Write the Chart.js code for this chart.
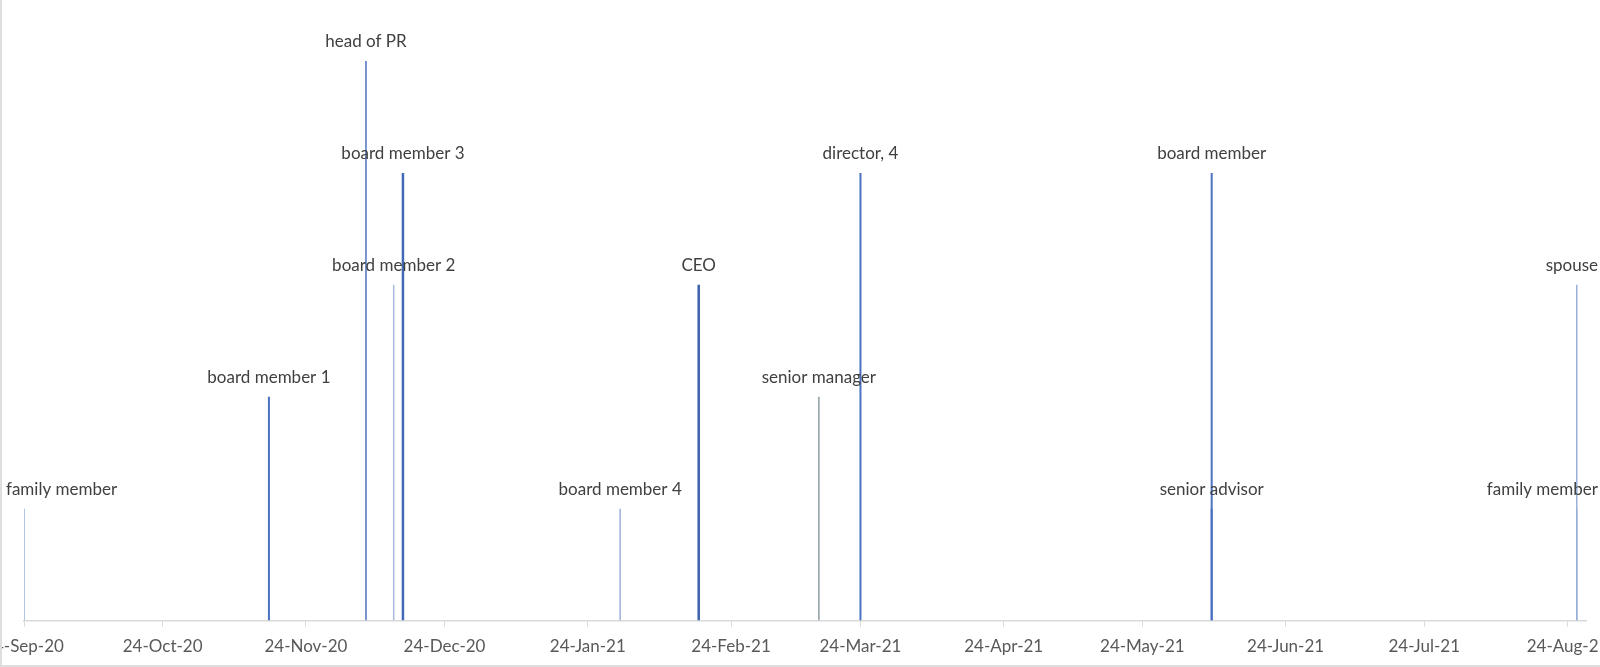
<!DOCTYPE html>
<html>
<head>
<meta charset="utf-8">
<script src="https://cdn.jsdelivr.net/npm/chart.js@4/dist/chart.umd.min.js"></script>
<style>
  html, body { margin: 0; padding: 0; background: #fff; overflow: hidden; }
  #wrap { width: 1598px; height: 665px; border-left: 2px solid #dedede; border-bottom: 2px solid #dedede; }
</style>
</head>
<body>
<div id="wrap"><canvas id="timeline" width="1598" height="665"></canvas></div>
<script>
// events on the timeline
const roles = ['family member','board member 1','head of PR','board member 2','board member 3','board member 4',
               'CEO','senior manager','director, 4','senior advisor','board member','family member','spouse'];
const dates = ['2020-09-24','2020-11-16','2020-12-07','2020-12-13','2020-12-15','2021-01-31',
               '2021-02-17','2021-03-15','2021-03-24','2021-06-08','2021-06-08','2021-08-26','2021-08-26'];
const levels = [1,2,5,3,4,1,3,2,4,1,4,1,3];
// axis ticks: the 24th of each month
const tickMonths = ['2020-09','2020-10','2020-11','2020-12','2021-01','2021-02','2021-03','2021-04','2021-05','2021-06','2021-07','2021-08'];

// line look per event
const lineColors = ['#9ab0d8','#4a72c0','#4a72c0','#a9bade','#4268b8','#9ab0d8',
                    '#3a62ad','#8e9ea6','#4a72c0','#4a72c0','#4a72c0','#9ab0d8','#9ab0d8'];
const lineWidths = [1.5,2,1.5,1.5,2.5,1.5,2.5,1.5,2,2,2,1.5,1.5];

const DAY = 86400000;
const toDay = s => Date.parse(s + 'T00:00:00Z') / DAY;
const months = ['Jan','Feb','Mar','Apr','May','Jun','Jul','Aug','Sep','Oct','Nov','Dec'];
const fmt = v => {
  const d = new Date(v * DAY);
  return d.getUTCDate() + '-' + months[d.getUTCMonth()] + '-' + String(d.getUTCFullYear()).slice(2);
};

// taller lines drawn last so they cover the short ones at the same date
const datasets = roles.map((r, i) => ({
  label: r,
  data: [{x: toDay(dates[i]), y: 0}, {x: toDay(dates[i]), y: levels[i]}],
  showLine: true,
  borderColor: lineColors[i],
  borderWidth: lineWidths[i],
  pointRadius: 0,
  pointHoverRadius: 0,
  order: -levels[i]
}));

const roleLabels = {
  id: 'roleLabels',
  afterDatasetsDraw(chart) {
    const ctx = chart.ctx;
    ctx.save();
    ctx.font = '17px Lato';
    ctx.fillStyle = '#404040';
    ctx.textAlign = 'center';
    ctx.textBaseline = 'middle';
    chart.data.datasets.forEach((ds, i) => {
      const top = chart.getDatasetMeta(i).data[1];
      const w = ctx.measureText(ds.label).width;
      let x = top.x;
      x = Math.max(x, 4 + w / 2);
      x = Math.min(x, chart.width - 2 - w / 2);
      ctx.fillText(ds.label, x, top.y - 19);
    });
    ctx.restore();
  }
};

const grafico = new Chart(document.getElementById('timeline').getContext('2d'), {
  type: 'scatter',
  data: { datasets: datasets },
  options: {
    responsive: false,
    animation: false,
    layout: { padding: { left: 22, right: 14, top: 5, bottom: -2 } },
    plugins: { legend: { display: false }, tooltip: { enabled: false } },
    scales: {
      x: {
        type: 'linear',
        min: toDay('2020-09-24'),
        max: toDay('2021-08-28'),
        afterBuildTicks: scale => {
          scale.ticks = tickMonths.map(m => ({ value: toDay(m + '-24') }));
        },
        afterFit: scale => { scale.paddingLeft = 0; scale.paddingRight = 0; },
        ticks: {
          callback: v => fmt(v),
          color: '#595959',
          font: { family: 'Lato', size: 17 },
          padding: 10,
          maxRotation: 0,
          autoSkip: false
        },
        grid: { drawOnChartArea: false, color: '#d9d9d9', tickLength: 6 },
        border: { color: '#d9d9d9', width: 1.5 }
      },
      y: { display: false, min: 0, max: 5.5 }
    }
  },
  plugins: [roleLabels]
});
</script>
</body>
</html>
